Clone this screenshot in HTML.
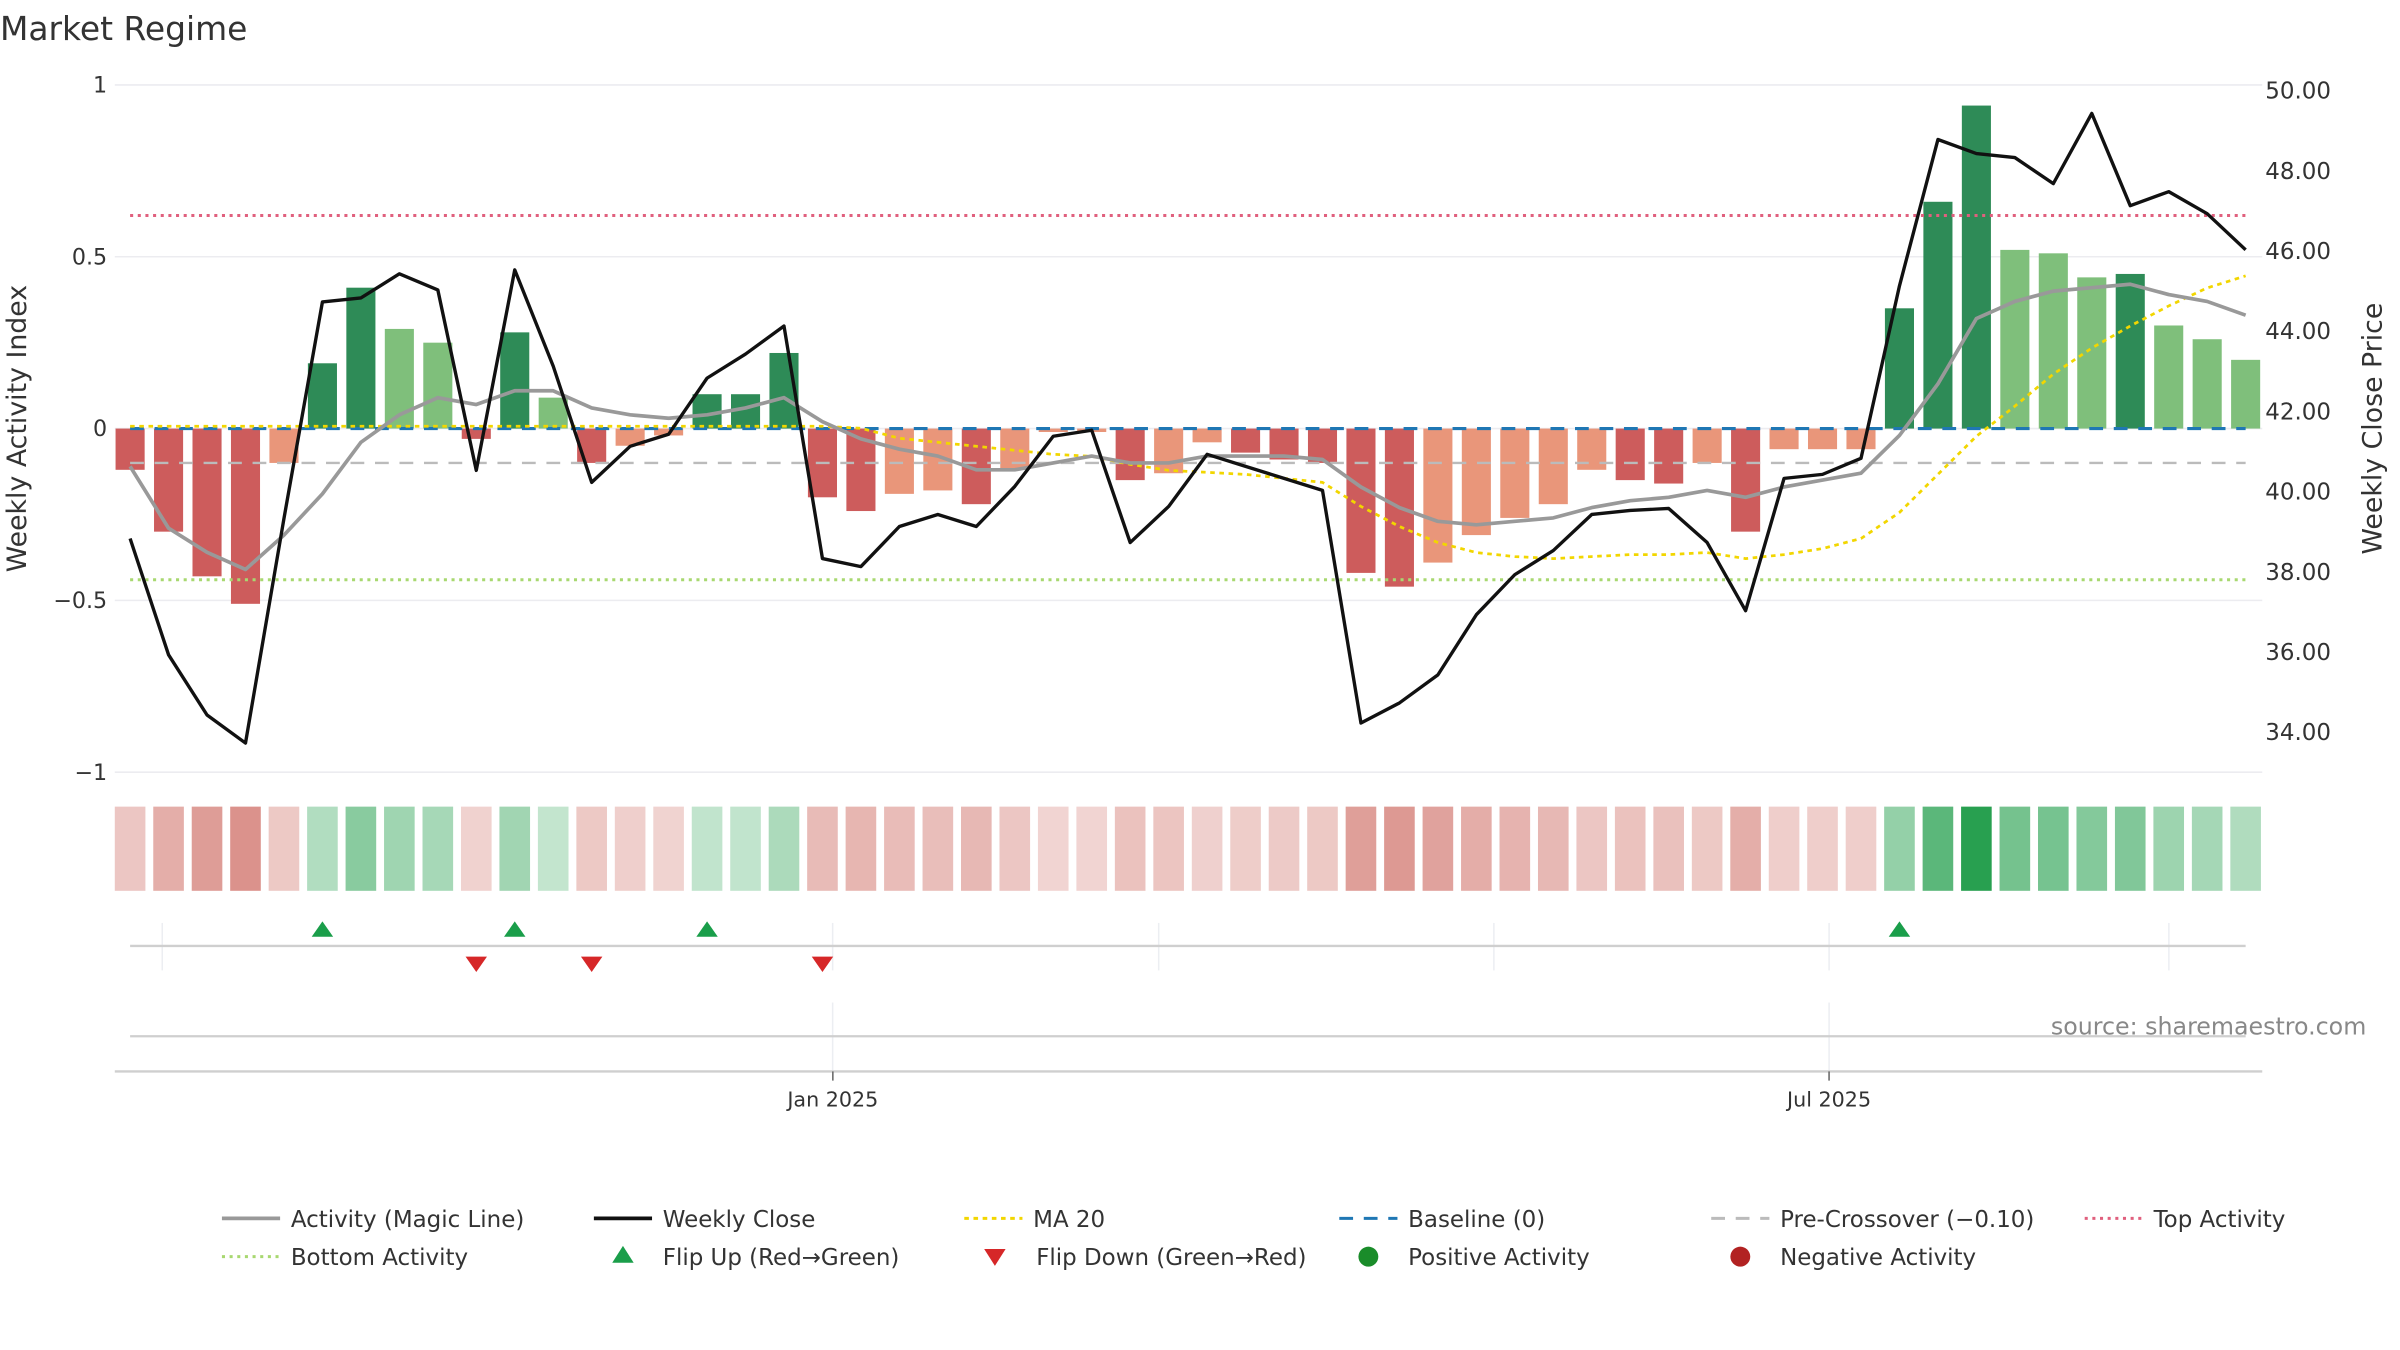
<!DOCTYPE html>
<html><head><meta charset="utf-8"><style>
html,body{margin:0;padding:0;background:#fff;}
svg{display:block;font-family:"DejaVu Sans","Liberation Sans",sans-serif;}
</style></head><body>
<svg id="chart" width="2400" height="1350" viewBox="0 0 1568 882" xmlns="http://www.w3.org/2000/svg">
<text x="0" y="26" font-size="21.5" fill="#333">Market Regime</text>
<g id="grid"></g>
<g id="bars"></g>
<g id="lines"></g>
<g id="axes"></g>
<g id="strip"></g>
<g id="events"></g>
<g id="legend"></g>
</svg>
<script>
const activity=[-0.12,-0.30,-0.43,-0.51,-0.10,0.19,0.41,0.29,0.25,-0.03,0.28,0.09,-0.10,-0.05,-0.02,0.10,0.10,0.22,-0.20,-0.24,-0.19,-0.18,-0.22,-0.12,-0.01,-0.01,-0.15,-0.13,-0.04,-0.07,-0.09,-0.10,-0.42,-0.46,-0.39,-0.31,-0.26,-0.22,-0.12,-0.15,-0.16,-0.10,-0.30,-0.06,-0.06,-0.06,0.35,0.66,0.94,0.52,0.51,0.44,0.45,0.30,0.26,0.20];
const strong=[1,1,1,1,0,1,1,0,0,1,1,0,1,0,0,1,1,1,1,1,0,0,1,0,0,0,1,0,0,1,1,1,1,1,0,0,0,0,0,1,1,0,1,0,0,0,1,1,1,0,0,0,1,0,0,0];
const closePrice=[38.8,35.9,34.4,33.7,39.3,44.7,44.8,45.4,45.0,40.5,45.5,43.1,40.2,41.1,41.4,42.8,43.4,44.1,38.3,38.1,39.1,39.4,39.1,40.1,41.35,41.5,38.7,39.6,40.9,40.6,40.3,40.0,34.2,34.7,35.4,36.9,37.9,38.5,39.4,39.5,39.55,38.7,37.0,40.3,40.4,40.8,45.1,48.75,48.4,48.3,47.65,49.4,47.1,47.45,46.9,46.0];
const magic=[-0.11,-0.29,-0.36,-0.41,-0.31,-0.19,-0.04,0.04,0.09,0.07,0.11,0.11,0.06,0.04,0.03,0.04,0.06,0.09,0.02,-0.03,-0.06,-0.08,-0.12,-0.12,-0.10,-0.08,-0.10,-0.10,-0.08,-0.08,-0.08,-0.09,-0.17,-0.23,-0.27,-0.28,-0.27,-0.26,-0.23,-0.21,-0.20,-0.18,-0.20,-0.17,-0.15,-0.13,-0.02,0.13,0.32,0.37,0.40,0.41,0.42,0.39,0.37,0.33];
const ma20=[41.6,41.6,41.6,41.6,41.6,41.6,41.6,41.6,41.6,41.6,41.6,41.6,41.6,41.6,41.6,41.6,41.6,41.6,41.6,41.55,41.3,41.2,41.1,41.0,40.9,40.85,40.65,40.5,40.45,40.4,40.3,40.2,39.6,39.1,38.7,38.45,38.35,38.3,38.35,38.4,38.4,38.45,38.3,38.4,38.55,38.8,39.45,40.4,41.35,42.1,42.9,43.55,44.1,44.6,45.05,45.35];
const flipUp=[5,10,15,46];
const flipDown=[9,12,18];
const leftTicks=[1,0.5,0,-0.5,-1];
const leftTickLabels=["1","0.5","0","\u22120.5","\u22121"];
const rightTicks=[50,48,46,44,42,40,38,36,34];
const refTop=0.62, refBottom=-0.44, refPre=-0.10, refBase=0;
const dateTicks=[{i:18.27,label:"Jan 2025"},{i:44.17,label:"Jul 2025"}];

const NS="http://www.w3.org/2000/svg";
function mk(parent,tag,attrs){const e=document.createElementNS(NS,tag);for(const k in attrs)e.setAttribute(k,attrs[k]);document.getElementById(parent).appendChild(e);return e;}
const X0=85,DX=25.13,L=75,R=1478;
const xs=i=>X0+i*DX;
const yA=v=>280-v*224.5;
const yP=p=>268-(p-42)*26.2;

leftTicks.forEach((t,k)=>{
  const g=mk('grid','line',{x1:L,x2:R,y1:yA(t),y2:yA(t),stroke:'#ececf0','stroke-width':1});
  
  
  const tx=mk('axes','text',{x:70,y:yA(t)+5,'text-anchor':'end','font-size':14.5,fill:'#333'});
  tx.textContent=leftTickLabels[k];
  
  
});
rightTicks.forEach(t=>{
  const tx=mk('axes','text',{x:1480,y:yP(t)+6,'font-size':15,fill:'#333'});
  tx.textContent=t.toFixed(2);
  
  
});
let t1=mk('axes','text',{x:0,y:0,'font-size':17.5,fill:'#333','text-anchor':'middle',transform:'translate(17,280) rotate(-90)'});
t1.textContent='Weekly Activity Index';


let t2=mk('axes','text',{x:0,y:0,'font-size':17.5,fill:'#333','text-anchor':'middle',transform:'translate(1556,280) rotate(-90)'});
t2.textContent='Weekly Close Price';



activity.forEach((v,i)=>{
  const pos=v>=0;
  const col=pos?(strong[i]?'#2e8b57':'#7fbf7b'):(strong[i]?'#cd5c5c':'#e9967a');
  const b=mk('bars','rect',{x:xs(i)-9.5,y:Math.min(yA(v),yA(0)),width:19,height:Math.abs(yA(v)-yA(0)),fill:col});
  
  
});
function href(v,color,dash,w,name){const l=mk('lines','line',{x1:X0,x2:xs(55),y1:yA(v),y2:yA(v),stroke:color,'stroke-dasharray':dash,'stroke-width':w});
  
  }
href(refBase,'#1f77b4','9 7',2,'baseline-line');
href(refPre,'#bbbbbb','9 7',1.6,'pre-crossover-line');
href(refTop,'#e0607e','2 3',2,'top-activity-line');
href(refBottom,'#a8d870','2 3',2,'bottom-activity-line');
function poly(arr,yf,color,w,dash,name){const p=mk('lines','polyline',{points:arr.map((v,i)=>xs(i)+','+yf(v)).join(' '),fill:'none',stroke:color,'stroke-width':w,'stroke-dasharray':dash,'stroke-linejoin':'round'});
  
  }
poly(ma20,yP,'#f2d600',1.8,'3 3','ma20-line');
poly(magic,yA,'#999999',2.4,'none','magic-line');
poly(closePrice,yP,'#111111',2.2,'none','weekly-close-line');

activity.forEach((v,i)=>{
  const a=Math.min(1,0.2+0.85*Math.abs(v));
  const c=v>=0?'rgba(40,160,80,'+a+')':'rgba(200,90,80,'+(0.25+0.8*Math.abs(v))+')';
  const r=mk('strip','rect',{x:xs(i)-10,y:527,width:20,height:55,fill:c});
  
  
});
[106,544,757,976,1195,1417].forEach(x=>{const l=mk('events','line',{x1:x,x2:x,y1:603,y2:634,stroke:'#eceef2'});
  
  });
[544,1195].forEach(x=>{const l=mk('events','line',{x1:x,x2:x,y1:655,y2:700,stroke:'#eceef2'});
  
  });
let el=mk('events','line',{x1:X0,x2:xs(55),y1:618,y2:618,stroke:'#cfcfcf','stroke-width':1.5});


el=mk('events','line',{x1:X0,x2:xs(55),y1:677,y2:677,stroke:'#cfcfcf','stroke-width':1.5});


el=mk('events','line',{x1:L,x2:R,y1:700,y2:700,stroke:'#cfcfcf','stroke-width':1.5});


flipUp.forEach(i=>{const x=xs(i);const p=mk('events','polygon',{points:`${x-7},612 ${x+7},612 ${x},602`,fill:'#1a9e4a'});
  
  });
flipDown.forEach(i=>{const x=xs(i);const p=mk('events','polygon',{points:`${x-7},625 ${x+7},625 ${x},635`,fill:'#d62728'});
  
  });
dateTicks.forEach(d=>{const x=xs(d.i);
  const l=mk('events','line',{x1:x,x2:x,y1:700,y2:706,stroke:'#666'});
  
  
  const t=mk('events','text',{x:x,y:723,'text-anchor':'middle','font-size':13.5,fill:'#333'});
  t.textContent=d.label;
  
  });
el=mk('events','text',{x:1546,y:676,'text-anchor':'end','font-size':15.5,fill:'#888'});
el.textContent='source: sharemaestro.com';



const legendItems=[
 ['line',145,796,'#999','none',2.4,'Activity (Magic Line)'],
 ['line',388,796,'#111','none',2.4,'Weekly Close'],
 ['line',630,796,'#f2d600','3 3',2,'MA 20'],
 ['line',875,796,'#1f77b4','9 7',2,'Baseline (0)'],
 ['line',1118,796,'#bbb','9 7',2,'Pre-Crossover (\u22120.10)'],
 ['line',1362,796,'#e0607e','2 3',2,'Top Activity'],
 ['line',145,821,'#a8d870','2 3',2,'Bottom Activity'],
 ['up',407,821,'#1a9e4a','',0,'Flip Up (Red\u2192Green)'],
 ['down',650,821,'#d62728','',0,'Flip Down (Green\u2192Red)'],
 ['dot',894,821,'#1a8c2a','',0,'Positive Activity'],
 ['dot',1137,821,'#b22222','',0,'Negative Activity']];
legendItems.forEach(it=>{
  const [k,x,y,c,d,w,label]=it;
  let tx;
  if(k==='line'){const l=mk('legend','line',{x1:x,x2:x+38,y1:y,y2:y,stroke:c,'stroke-width':w,'stroke-dasharray':d});
    
    tx=x+45;}
  else if(k==='up'){const p=mk('legend','polygon',{points:`${x-7},${y+4} ${x+7},${y+4} ${x},${y-7}`,fill:c});
    
    tx=x+26;}
  else if(k==='down'){const p=mk('legend','polygon',{points:`${x-7},${y-5} ${x+7},${y-5} ${x},${y+6}`,fill:c});
    
    tx=x+27;}
  else {const p=mk('legend','circle',{cx:x,cy:y,r:6.5,fill:c});
    
    tx=x+26;}
  const t=mk('legend','text',{x:tx,y:y+5.5,'font-size':15,fill:'#333'});
  t.textContent=label;
  
  
});
</script>
</body></html>
